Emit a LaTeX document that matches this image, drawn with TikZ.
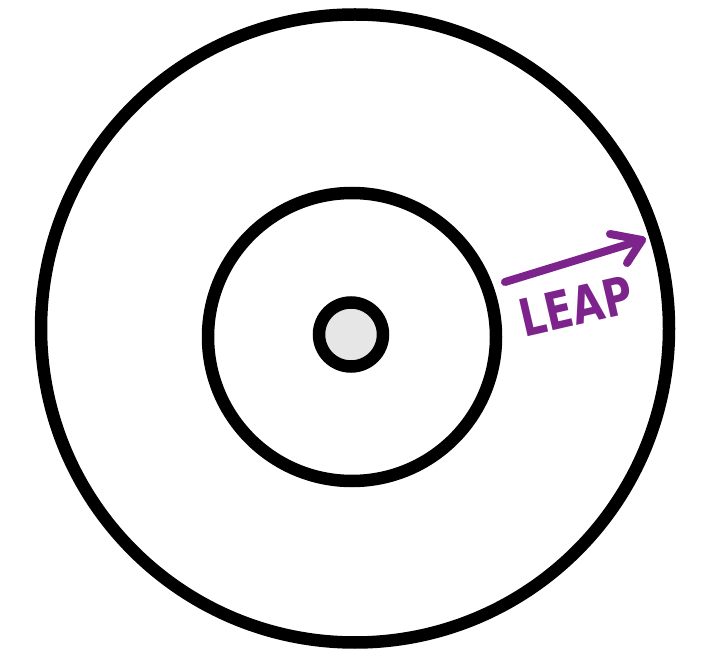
\documentclass[tikz,border=0pt]{standalone}
\usepackage{fontspec}
\newfontfamily\leapfont{DejaVu Sans}
\definecolor{leappurple}{RGB}{125,36,140}
\definecolor{hubgray}{RGB}{230,230,230}
\begin{document}
\begin{tikzpicture}[x=1pt,y=-1pt,
  ring/.style={draw=black,line width=12.5pt},
  leapline/.style={draw=leappurple,line width=8pt,line cap=round,line join=round}]
\useasboundingbox (0,0) rectangle (713,652);
\draw[ring] (355,328.5) circle (314);
\draw[ring] (352,337) circle (144);
\draw[ring,fill=hubgray] (351,334.5) circle (32);
\coordinate (tail) at (505,282);
\coordinate (tip) at (642,240);
\coordinate (barbA) at (610,234);
\coordinate (barbB) at (627,263);
\draw[leapline] (tail) -- (tip);
\draw[leapline] (barbA) -- (tip) -- (barbB);
\node[text=leappurple,font=\leapfont\bfseries\fontsize{52}{52}\selectfont,
  rotate=13,xscale=0.78,inner sep=0] (leap) at (576,306) {LEAP};
\end{tikzpicture}
\end{document}
